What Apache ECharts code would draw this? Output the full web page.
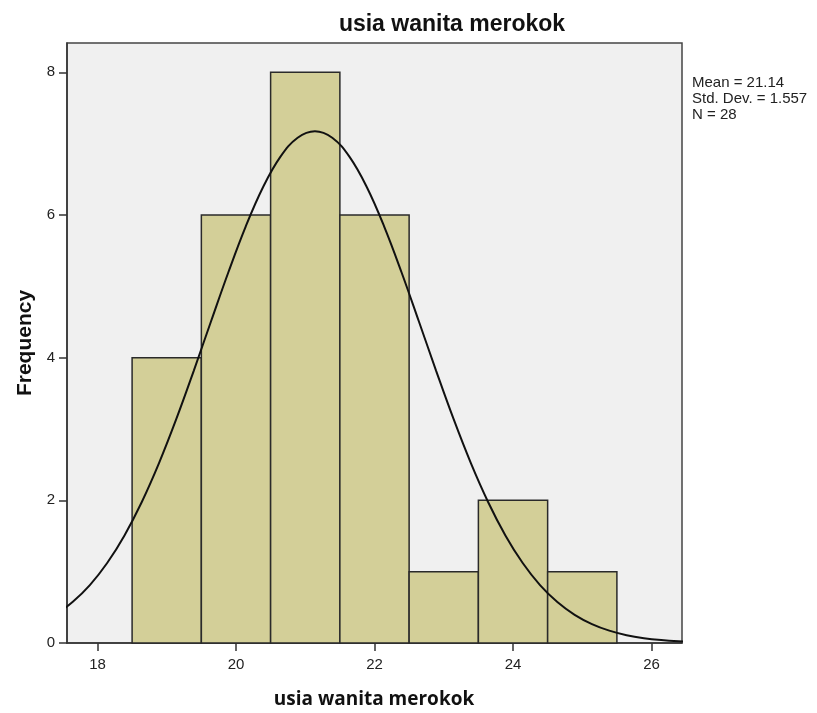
<!DOCTYPE html>
<html>
<head>
<meta charset="utf-8">
<script src="https://cdn.jsdelivr.net/npm/echarts@6/dist/echarts.min.js"></script>
<style>
  html, body { margin: 0; padding: 0; background: #fff; }
  #chart { width: 817px; height: 713px; }
</style>
</head>
<body>
<div id="chart"></div>
<script>
// histogram bins (age) and counts
const binStart = [18.5, 19.5, 20.5, 21.5, 22.5, 23.5, 24.5]
const binEnd = [19.5, 20.5, 21.5, 22.5, 23.5, 24.5, 25.5]
const counts = [4, 6, 8, 6, 1, 2, 1]

// normal curve, quarter-year steps around the peak at 21.14
const curveX = [17.39, 17.64, 17.89, 18.14, 18.39, 18.64, 18.89, 19.14, 19.39, 19.64, 19.89, 20.14, 20.39, 20.64, 20.89,
  21.14, 21.39, 21.64, 21.89, 22.14, 22.39, 22.64, 22.89, 23.14, 23.39, 23.64, 23.89, 24.14, 24.39, 24.64, 24.89,
  25.14, 25.39, 25.64, 25.89, 26.14, 26.39, 26.64]
const curveY = [0.395, 0.574, 0.812, 1.121, 1.508, 1.977, 2.525, 3.144, 3.815, 4.510, 5.197, 5.837, 6.388, 6.813, 7.082,
  7.174, 7.082, 6.813, 6.388, 5.837, 5.197, 4.510, 3.815, 3.144, 2.525, 1.977, 1.508, 1.121, 0.812, 0.574, 0.395,
  0.265, 0.173, 0.110, 0.068, 0.041, 0.024, 0.014]

const xTicks = [18, 20, 22, 24, 26]
const yTicks = [0, 2, 4, 6, 8]
const statsLines = ['Mean = 21.14', 'Std. Dev. = 1.557', 'N = 28']

const chart = echarts.init(document.getElementById('chart'))

const labelFont = { fontFamily: 'Liberation Sans', fontSize: 15, color: '#222' }

const option = {
  animation: false,
  backgroundColor: '#fff',
  grid: {
    left: 67, top: 43, right: 135, bottom: 70,
    show: true,
    backgroundColor: '#f0f0f0',
    borderColor: '#444',
    borderWidth: 1.5
  },
  xAxis: {
    type: 'value',
    min: 17.56,
    max: 26.44,
    splitLine: { show: false },
    axisLine: { lineStyle: { color: '#333', width: 1.5 } },
    axisTick: { customValues: xTicks, length: 8, lineStyle: { color: '#333', width: 1.5 } },
    axisLabel: { customValues: xTicks, margin: 14, ...labelFont }
  },
  yAxis: {
    type: 'value',
    min: 0,
    max: 8.41,
    splitLine: { show: false },
    axisLine: { show: true, lineStyle: { color: '#333', width: 1.5 } },
    axisTick: { show: true, customValues: yTicks, length: 8, lineStyle: { color: '#333', width: 1.5 } },
    axisLabel: { customValues: yTicks, margin: 12, ...labelFont }
  },
  series: [
    {
      type: 'custom',
      data: binStart.map((s, i) => [s, binEnd[i], counts[i]]),
      encode: { x: [0, 1], y: 2 },
      renderItem: (params, api) => {
        const p0 = api.coord([api.value(0), api.value(2)])
        const p1 = api.coord([api.value(1), 0])
        return {
          type: 'rect',
          shape: { x: p0[0], y: p0[1], width: p1[0] - p0[0], height: p1[1] - p0[1] },
          style: { fill: '#d3cf98', stroke: '#2a2a2a', lineWidth: 1.5 }
        }
      },
      z: 2
    },
    {
      type: 'line',
      data: curveX.map((x, i) => [x, curveY[i]]),
      smooth: 0.4,
      showSymbol: false,
      clip: true,
      lineStyle: { color: '#111', width: 2 },
      z: 3
    }
  ],
  graphic: [
    {
      type: 'text', x: 452, y: 25,
      style: { text: 'usia wanita merokok', font: 'bold 23px "Liberation Sans"', fill: '#111', align: 'center', verticalAlign: 'middle' }
    },
    {
      type: 'text', x: 374, y: 700,
      style: { text: 'usia wanita merokok', font: 'bold 19px "Open Sans"', fill: '#111', align: 'center', verticalAlign: 'middle' }
    },
    {
      type: 'text', x: 25, y: 343, rotation: Math.PI / 2,
      style: { text: 'Frequency', font: 'bold 21px "Liberation Sans"', fill: '#111', align: 'center', verticalAlign: 'middle' }
    },
    {
      type: 'text', x: 692, y: 75,
      style: { text: statsLines.join('\n'), font: '15px "Liberation Sans"', lineHeight: 16, fill: '#222', align: 'left', verticalAlign: 'top' }
    }
  ]
}

chart.setOption(option)
</script>
</body>
</html>
